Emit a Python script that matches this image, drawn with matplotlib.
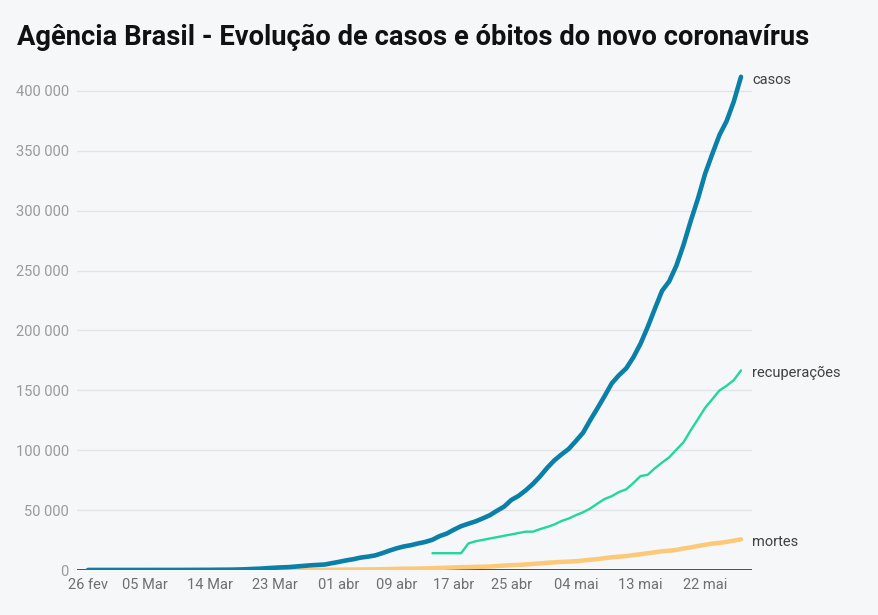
import numpy as np
import pandas as pd
import matplotlib
matplotlib.use("Agg")
import matplotlib.pyplot as plt

# ---------------- data ----------------
start_date = "2020-02-26"
end_date = "2020-05-27"

casos = [
    1, 1, 1, 2,
    2, 2, 2, 3, 8, 13, 19, 25, 25, 34, 52, 77, 98, 121, 200, 234, 291, 428, 621, 904,
    1128, 1546, 1891, 2201, 2433, 2915, 3417, 3904, 4256, 4579, 5717,
    6836, 8044, 9056, 10360, 11130, 12161, 14034, 16170, 18092, 19638, 20727, 22169,
    23430, 25262, 28320, 30425, 33682, 36599, 38654, 40581, 43079, 45757, 49492, 52995,
    58509, 61888, 66501, 71886, 78162, 85380,
    91589, 96559, 101147, 107780, 114715, 125218, 135106, 145328, 155939, 162699,
    168331, 177589, 188974, 202918, 218223, 233142, 241080, 254220, 271628, 291579,
    310087, 330890, 347398, 363211, 374898, 391222, 411821,
]

mortes = [
    0, 0, 0, 0,
    0, 0, 0, 0, 0, 0, 0, 0, 0, 0, 0, 0, 0, 0, 0, 0,
    1, 3, 6, 11, 18, 25, 34, 46, 59, 77, 92, 111, 136, 159, 201,
    240, 324, 359, 445, 486, 564, 686, 819, 950, 1057, 1124, 1223, 1328, 1532, 1736,
    1924, 2141, 2354, 2462, 2587, 2741, 2906, 3331, 3704, 4057, 4286, 4603, 5083,
    5513, 6006,
    6412, 6761, 7025, 7321, 7921, 8536, 9146, 9897, 10627, 11123, 11653, 12461, 13149,
    13993, 14817, 15633, 16118, 16792, 17971, 18859, 20047, 21048, 22013, 22666,
    23473, 24512, 25598,
]

recuperacoes_start = "2020-04-14"
recuperacoes = [
    14026, 14026, 14026, 14026, 14026, 22130, 24000, 25100, 26300, 27400,
    28600, 29700, 30900, 32000, 32000, 34132, 35935,
    38039, 40937, 42991, 45815, 48221, 51370, 55474, 59297, 61685, 65124, 67384,
    72597, 78424, 79479, 84970, 89672, 94122, 100459, 106794, 116683, 125960,
    135430, 142587, 149911, 153833, 158593, 166647,
]

tick_dates = ["2020-02-26", "2020-03-05", "2020-03-14", "2020-03-23", "2020-04-01",
              "2020-04-09", "2020-04-17", "2020-04-25", "2020-05-04", "2020-05-13",
              "2020-05-22"]
tick_labels = ["26 fev", "05 Mar", "14 Mar", "23 Mar", "01 abr", "09 abr", "17 abr",
               "25 abr", "04 mai", "13 mai", "22 mai"]
y_ticks = [0, 50000, 100000, 150000, 200000, 250000, 300000, 350000, 400000]

title = "Agência Brasil - Evolução de casos e óbitos do novo coronavírus"

# ---------------- plot ----------------
plt.rcParams['font.family'] = ['Roboto', 'DejaVu Sans']

BG = "#f6f7f9"
fig = plt.figure(figsize=(8.79, 6.15), dpi=100, facecolor=BG)
ax = fig.add_axes([77 / 879, 45 / 615, (752 - 77) / 879, (570 - 67) / 615])
ax.set_facecolor(BG)

dates = pd.date_range(start_date, end_date, freq="D")
rec_dates = pd.date_range(recuperacoes_start, periods=len(recuperacoes), freq="D")

c_casos = "#0a7fa8"
c_rec = "#22d69e"
c_mortes = "#fdc878"

ax.plot(dates, mortes, color=c_mortes, lw=3.2, solid_capstyle="round", zorder=3)
ax.plot(rec_dates, recuperacoes, color=c_rec, lw=1.7, solid_capstyle="round", zorder=4)
ax.plot(dates, casos, color=c_casos, lw=3.3, solid_capstyle="round", zorder=5)

span = (dates[-1] - dates[0]).days
pad = pd.Timedelta(days=span * 11 / 653)
ax.set_xlim(dates[0] - pad, dates[-1] + pad)
ax.set_ylim(0, 420000)

ax.set_yticks(y_ticks)
ax.set_yticklabels([f"{v:,}".replace(",", " ") for v in y_ticks])
ax.set_xticks(pd.to_datetime(tick_dates))
ax.set_xticklabels(tick_labels)

ax.tick_params(axis="y", length=0, pad=6, labelsize=10.5, labelcolor="#9a9a9a")
ax.tick_params(axis="x", length=0, pad=6, labelsize=10.5, labelcolor="#6f6f6f")

ax.grid(axis="y", color="#e2e3e5", lw=1.0)
ax.grid(axis="x", visible=False)
ax.set_axisbelow(True)
for s in ax.spines.values():
    s.set_visible(False)
ax.axhline(0, color="#333333", lw=1.2, zorder=2)

# end labels
ax.annotate("casos", (dates[-1], casos[-1]), xytext=(8, -2), textcoords="offset points",
            va="center", ha="left", fontsize=10.5, color="#404040")
ax.annotate("recuperações", (rec_dates[-1], recuperacoes[-1]), xytext=(8, -2),
            textcoords="offset points", va="center", ha="left", fontsize=10.5, color="#404040")
ax.annotate("mortes", (dates[-1], mortes[-1]), xytext=(8, -2), textcoords="offset points",
            va="center", ha="left", fontsize=10.5, color="#404040")

fig.text(17 / 879, 1 - 45 / 615, title, fontsize=19.7, fontweight="bold", color="#111111",
         ha="left", va="baseline")

fig.savefig("out.png", dpi=100, facecolor=BG)
